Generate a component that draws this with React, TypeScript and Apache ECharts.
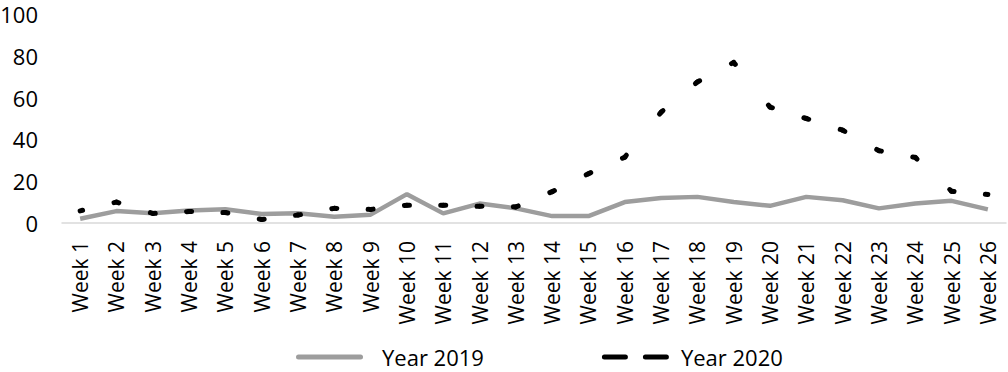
import React, { useEffect, useRef } from "react";
import * as echarts from "echarts";

const weeks: string[] = Array.from({ length: 26 }, (_, i) => `Week ${i + 1}`);
const year2019: number[] = [2, 5.7, 4.7, 6, 6.6, 4.3, 4.7, 3, 4, 13.8, 4.6, 9.3, 7, 3.3, 3.3, 10, 12, 12.5, 10, 8.2, 12.5, 10.9, 7, 9.3, 10.6, 6.5];
const year2020: number[] = [5.8, 10, 4.6, 5.5, 5, 1.7, 3.8, 7, 6.5, 8.5, 8.5, 8, 7.7, 15, 23.6, 31.5, 53, 67.5, 76.8, 55.5, 50, 44.4, 34.6, 31.4, 15.2, 13.6];
const yTicks = { min: 0, max: 100, interval: 20 };
const seriesNames = ["Year 2019", "Year 2020"];

const FONT = "'Open Sans', 'DejaVu Sans', sans-serif";

export default function App() {
  const ref = useRef<HTMLDivElement>(null);
  useEffect(() => {
    if (!ref.current) return;
    const chart = echarts.init(ref.current, undefined, { renderer: "svg" });
    const half = 2.5;
    chart.setOption({
      animation: false,
      textStyle: { fontFamily: FONT },
      grid: { left: 62, right: 2, top: 14, bottom: 149, outerBoundsMode: "none", containLabel: false },
      legend: {
        left: 296,
        top: 346,
        padding: 0,
        itemWidth: 67,
        itemHeight: 5,
        itemGap: 118,
        itemStyle: { borderWidth: 0 },
        textStyle: { fontFamily: FONT, fontSize: 22, lineHeight: 22, color: "#000" },
        data: [
          {
            name: seriesNames[0],
            icon: "path://M2.5,0H64.5A2.5,2.5,0,0,1,64.5,5H2.5A2.5,2.5,0,0,1,2.5,0Z",
            itemStyle: { color: "#9d9d9d" },
            textStyle: { padding: [0, 0, 0, 14] },
          },
          {
            name: seriesNames[1],
            icon: "path://M2.5,0H23.5A2.5,2.5,0,0,1,23.5,5H2.5A2.5,2.5,0,0,1,2.5,0Z M43.5,0H64.5A2.5,2.5,0,0,1,64.5,5H43.5A2.5,2.5,0,0,1,43.5,0Z",
            itemStyle: { color: "#000" },
            textStyle: { padding: [0, 0, 0, 7] },
          },
        ],
      },
      xAxis: {
        type: "category",
        data: weeks,
        boundaryGap: true,
        axisLine: { lineStyle: { color: "#d9d9d9", width: 1.5 } },
        axisTick: { show: false },
        axisLabel: { rotate: 90, interval: 0, fontSize: 21, color: "#000", margin: 18, fontFamily: FONT },
      },
      yAxis: {
        type: "value",
        min: yTicks.min,
        max: yTicks.max,
        interval: yTicks.interval,
        axisLine: { show: false },
        axisTick: { show: false },
        splitLine: { show: false },
        axisLabel: { fontSize: 22, lineHeight: 22, color: "#000", margin: 24, fontFamily: FONT },
      },
      series: [
        {
          name: seriesNames[0],
          type: "line",
          data: year2019,
          showSymbol: false,
          symbol: "none",
          itemStyle: { color: "#9d9d9d" },
          lineStyle: { color: "#9d9d9d", width: 4.5 },
          z: 2,
        },
        {
          name: seriesNames[1],
          type: "custom",
          itemStyle: { color: "#000" },
          data: year2020.map((v, i) => [i, v]),
          encode: { x: 0, y: 1 },
          z: 3,
          renderItem: (params: any, api: any) => {
            const i = api.value(0);
            if (i >= year2020.length - 1) return null;
            const p0 = api.coord([i, api.value(1)]);
            const p1 = api.coord([i + 1, year2020[i + 1]]);
            const len = Math.hypot(p1[0] - p0[0], p1[1] - p0[1]);
            return {
              type: "line",
              shape: { x1: p0[0], y1: p0[1], x2: p1[0], y2: p1[1] },
              style: {
                stroke: "#000",
                lineWidth: 5,
                lineCap: "round",
                lineDash: [half, Math.max(len - 2 * half, 0.1), half, 2000],
                fill: null,
              },
            };
          },
        },
      ],
    });
    return () => chart.dispose();
  }, []);
  return <div ref={ref} style={{ position: "fixed", left: 0, top: 0, width: 1008, height: 372, background: "#fff" }} />;
}
